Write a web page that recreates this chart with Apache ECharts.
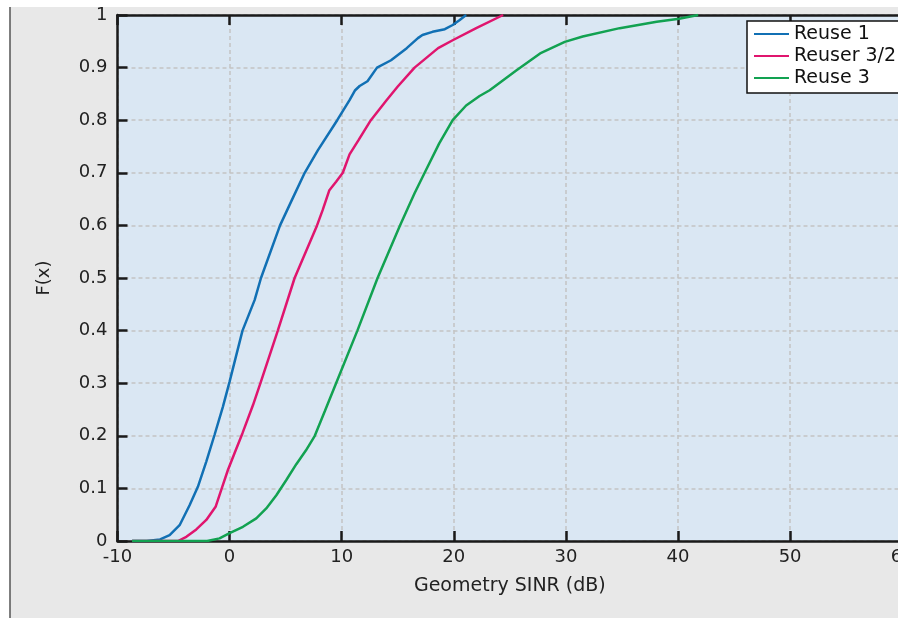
<!DOCTYPE html>
<html>
<head>
<meta charset="utf-8">
<script src="https://cdn.jsdelivr.net/npm/echarts@6/dist/echarts.min.js"></script>
<style>
html,body{margin:0;padding:0;background:#fff;}
#chart{width:898px;height:618px;}
</style>
</head>
<body>
<div id="chart"></div>
<script>
// Series names
const seriesNames = ['Reuse 1', 'Reuser 3/2', 'Reuse 3'];

// [SINR (dB), F(x)]
const reuse1 = [[-8.7,0],[-7.4,0],[-6.2,0.003],[-5.35,0.011],[-4.46,0.03],[-3.57,0.068],[-2.83,0.103],[-2.08,0.151],[-1.34,0.202],[-0.6,0.255],[0,0.303],[1.15,0.4],[2.23,0.458],[2.8,0.5],[4.5,0.6],[5.55,0.648],[6.7,0.7],[7.88,0.743],[9.6,0.8],[10.7,0.838],[11.2,0.857],[11.6,0.865],[12.3,0.874],[13.15,0.9],[14.4,0.914],[15.8,0.937],[16.8,0.956],[17.2,0.962],[18.1,0.968],[19.2,0.973],[19.9,0.981],[20.5,0.99],[21.1,1.0]];
const reuse32 = [[-8.7,0],[-4.6,0],[-3.86,0.008],[-2.97,0.022],[-2.08,0.04],[-1.25,0.065],[-0.7,0.1],[-0.15,0.135],[0.5,0.17],[1.15,0.205],[2.08,0.258],[2.75,0.3],[4.3,0.4],[5.8,0.5],[7.8,0.6],[8.3,0.629],[8.9,0.667],[9.5,0.683],[10.1,0.7],[10.7,0.735],[11.5,0.762],[12.6,0.8],[14.0,0.838],[15.0,0.864],[16.5,0.9],[18.6,0.937],[19.9,0.952],[22.0,0.975],[24.4,1.0]];
const reuse3 = [[-8.7,0],[-2.0,0],[-0.9,0.005],[0,0.015],[1.19,0.027],[2.38,0.043],[3.27,0.062],[4.17,0.087],[5.06,0.116],[5.95,0.146],[6.8,0.172],[7.6,0.2],[8.5,0.247],[9.5,0.3],[11.4,0.4],[13.2,0.5],[15.2,0.6],[16.5,0.661],[17.4,0.7],[18.7,0.756],[19.9,0.8],[21.1,0.828],[22.3,0.846],[23.2,0.857],[25.6,0.895],[27.7,0.927],[29.9,0.949],[31.5,0.959],[34.8,0.975],[38.1,0.987],[40.1,0.993],[41.8,1.0]];

// Axis settings
const xMin = -10, xMax = 60, xStep = 10;
const yMin = 0, yMax = 1, yStep = 0.1;
const xTitle = 'Geometry SINR (dB)';
const yTitle = 'F(x)';

const colors = ['#1170b4', '#e0156e', '#12a251'];
const FONT = '"DejaVu Sans", "Open Sans", sans-serif';

const chart = echarts.init(document.getElementById('chart'), null, {renderer: 'canvas'});

const axisLineStyle = {color: '#1a1a1a', width: 2.5};
const tickStyle = {show: true, inside: true, length: 10, lineStyle: {color: '#1a1a1a', width: 2.5}};
const splitStyle = {show: true, lineStyle: {color: '#c4c4c4', width: 1.5, type: [4, 3]}};

const option = {
  animation: false,
  backgroundColor: '#e8e8e8',
  graphic: [
    {type: 'rect', shape: {x: 0, y: 0, width: 898, height: 7}, style: {fill: '#ffffff'}, silent: true},
    {type: 'rect', shape: {x: 0, y: 0, width: 10, height: 618}, style: {fill: '#ffffff'}, silent: true},
    {type: 'line', shape: {x1: 10, y1: 7, x2: 10, y2: 618}, style: {stroke: '#555', lineWidth: 1.5}, silent: true}
  ],
  grid: {
    left: 117.5, top: 15, width: 784.7, height: 526,
    outerBoundsMode: 'none',
    show: true, backgroundColor: '#dae7f3', borderWidth: 0
  },
  legend: {
    orient: 'vertical', left: 747, top: 21,
    backgroundColor: '#ffffff', borderColor: '#111', borderWidth: 1.5,
    padding: [3, 40, 5, 6], itemWidth: 35, itemHeight: 20, itemGap: 2,
    selectedMode: false,
    itemStyle: {opacity: 0},
    textStyle: {fontFamily: FONT, fontSize: 19, color: '#111', lineHeight: 20},
    data: seriesNames
  },
  xAxis: [
    {
      type: 'value', min: xMin, max: xMax, interval: xStep, position: 'bottom',
      name: xTitle, nameLocation: 'middle', nameGap: 36,
      nameTextStyle: {fontFamily: FONT, fontSize: 19, color: '#222'},
      axisLine: {show: true, onZero: false, lineStyle: axisLineStyle},
      axisTick: tickStyle,
      axisLabel: {fontFamily: FONT, fontSize: 18, color: '#222', margin: 7},
      splitLine: splitStyle
    },
    {
      type: 'value', min: xMin, max: xMax, interval: xStep, position: 'top',
      axisLine: {show: true, onZero: false, lineStyle: axisLineStyle},
      axisTick: tickStyle,
      axisLabel: {show: false},
      splitLine: {show: false}
    }
  ],
  yAxis: {
    type: 'value', min: yMin, max: yMax, interval: yStep,
    name: yTitle, nameLocation: 'middle', nameGap: 64, nameRotate: 90,
    nameTextStyle: {fontFamily: FONT, fontSize: 18, color: '#222'},
    axisLine: {show: true, onZero: false, lineStyle: axisLineStyle},
    axisTick: tickStyle,
    axisLabel: {fontFamily: FONT, fontSize: 18, color: '#222', margin: 10,
      formatter: v => String(+v.toFixed(1))},
    splitLine: splitStyle
  },
  series: [
    {name: seriesNames[0], type: 'line', data: reuse1, symbol: 'none', color: colors[0], lineStyle: {width: 2.5}, z: 3},
    {name: seriesNames[1], type: 'line', data: reuse32, symbol: 'none', color: colors[1], lineStyle: {width: 2.5}, z: 4},
    {name: seriesNames[2], type: 'line', data: reuse3, symbol: 'none', color: colors[2], lineStyle: {width: 2.5}, z: 5}
  ]
};
chart.setOption(option);
</script>
</body>
</html>
